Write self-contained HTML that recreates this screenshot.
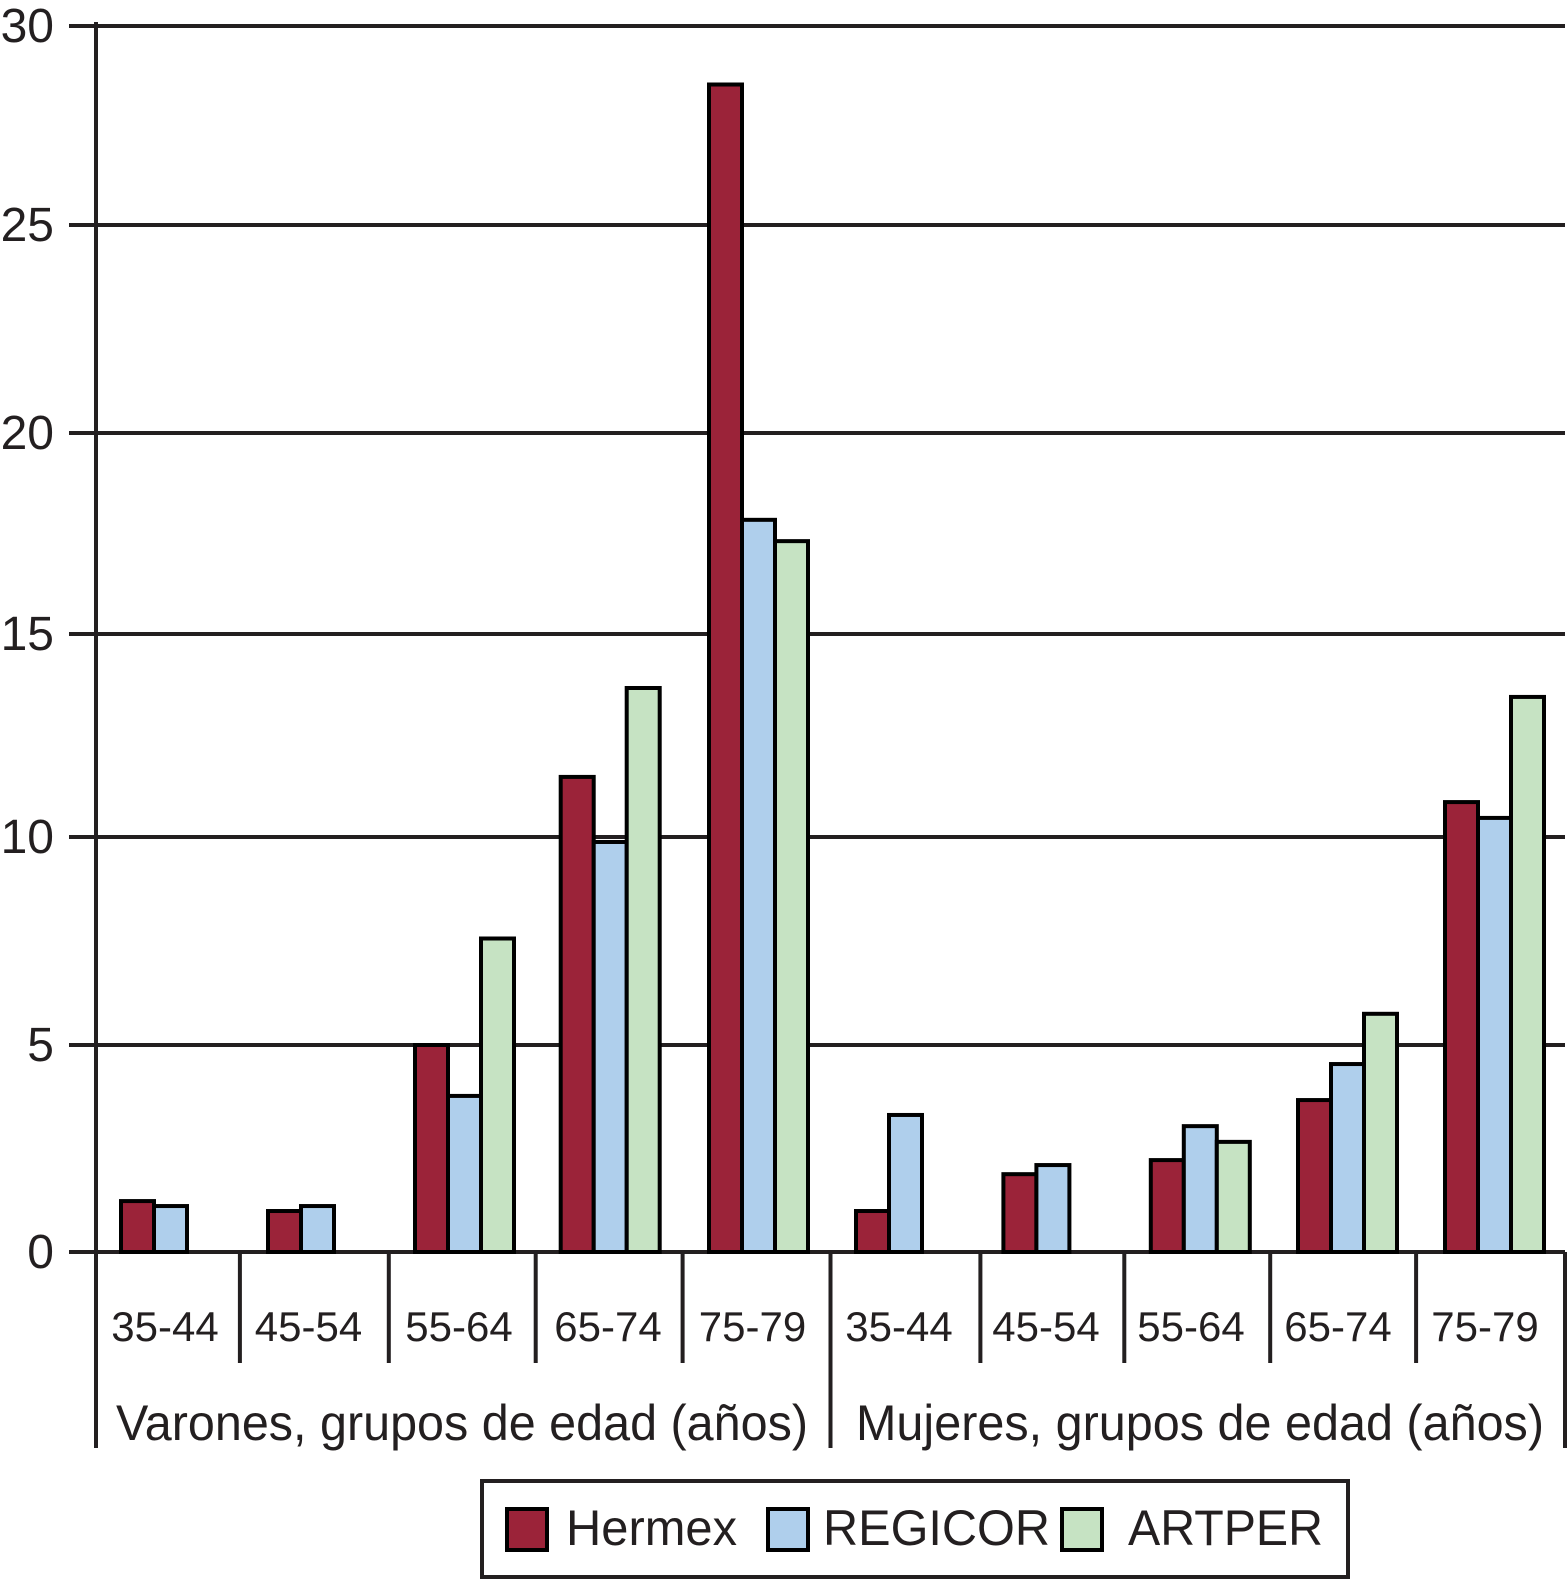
<!DOCTYPE html>
<html lang="es">
<head>
<meta charset="utf-8">
<title>Grupos de edad: Hermex, REGICOR, ARTPER</title>
<style>
html,body{margin:0;padding:0;background:#fff;width:1567px;height:1580px;overflow:hidden}
svg{display:block}
text{font-family:"Liberation Sans",Arial,sans-serif;fill:#231f20}
</style>
</head>
<body>
<svg id="chart" xmlns="http://www.w3.org/2000/svg" width="1567" height="1580" viewBox="0 0 1567 1580">
  <rect x="0" y="0" width="1567" height="1580" fill="#ffffff"/>
  <g id="grid"></g>
  <g id="bars"></g>
  <g id="axes"></g>
  <g id="labels"></g>

  <g>
    <rect x="482" y="1481" width="866" height="96" fill="#ffffff" stroke="#231f20" stroke-width="4"/>
    <g>
      <rect x="507" y="1509" width="40" height="41" fill="#9b2339" stroke="#000000" stroke-width="4"/>
      <text x="566" y="1545" font-size="50" textLength="171" lengthAdjust="spacingAndGlyphs">Hermex</text>
    </g>
    <g>
      <rect x="768" y="1509" width="40" height="41" fill="#afcfec" stroke="#000000" stroke-width="4"/>
      <text x="823" y="1545" font-size="50" textLength="227" lengthAdjust="spacingAndGlyphs">REGICOR</text>
    </g>
    <g>
      <rect x="1062" y="1509" width="40" height="41" fill="#c6e3c3" stroke="#000000" stroke-width="4"/>
      <text x="1128" y="1545" font-size="50" textLength="195" lengthAdjust="spacingAndGlyphs">ARTPER</text>
    </g>
  </g>
</svg>

<script>
// Chart data
const categories = ['35-44', '45-54', '55-64', '65-74', '75-79', '35-44', '45-54', '55-64', '65-74', '75-79'];
const hermexValues = [1.23, 0.99, 5.0, 11.48, 28.53, 0.99, 1.88, 2.22, 3.67, 10.86];
const regicorValues = [1.11, 1.11, 3.77, 9.88, 17.84, 3.31, 2.10, 3.04, 4.54, 10.47];
const artperValues = [null, null, 7.56, 13.67, 17.31, null, null, 2.66, 5.75, 13.45];
const yTickValues = [0, 5, 10, 15, 20, 25, 30];
const groupTitles = ['Varones, grupos de edad (años)', 'Mujeres, grupos de edad (años)'];

// Axis calibration (the source figure's gridlines are slightly unevenly spaced)
const Y_STOPS = [1252, 1045, 837, 634, 433, 225, 26];
const TICK_NUDGE = [0, -3, -1, -1, -1, 0, 3, 0, -1, -2, 0];
const LABEL_NUDGE = [0, -3.5, 0, 2, -0.5, -1, -1, -3, -3, -3];
const GROUP_NUDGE = [0, 0, 0, -1.3, 0, 0, 0.4, 0.8, 1, 1];

const NS = 'http://www.w3.org/2000/svg';
const COLOR_AXIS = '#231f20';
const BAR_W = 33;

function yScale(v) {
  const step = yTickValues[1] - yTickValues[0];
  let k = Math.floor(v / step);
  k = Math.max(0, Math.min(yTickValues.length - 2, k));
  const t = (v - yTickValues[k]) / step;
  return Y_STOPS[k] + t * (Y_STOPS[k + 1] - Y_STOPS[k]);
}
function barGroupX(i) { return 121 + 147 * i + GROUP_NUDGE[i]; }
function tickX(i) { return 96 + 146.9 * i + TICK_NUDGE[i]; }
function labelX(i) { return 165 + 147 * i + LABEL_NUDGE[i]; }

function make(tag, parent, attrs) {
  const el = document.createElementNS(NS, tag);
  for (const k in attrs) el.setAttribute(k, attrs[k]);
  parent.appendChild(el);
  return el;
}

const gridG = document.getElementById('grid');
const barsG = document.getElementById('bars');
const axesG = document.getElementById('axes');
const labelsG = document.getElementById('labels');

// Gridlines and y tick labels
yTickValues.forEach(function (v) {
  const line = make('line', gridG, { x1: 69, x2: 1565, y1: yScale(v), y2: yScale(v), stroke: COLOR_AXIS, 'stroke-width': 4 });
  
  
  const label = make('text', labelsG, { x: 54, y: yScale(v) + 16, 'font-size': 48, 'text-anchor': 'end' });
  label.textContent = String(v);
  
  
});

// Bars
const seriesList = [
  { key: 'hermex', values: hermexValues, fill: '#9b2339' },
  { key: 'regicor', values: regicorValues, fill: '#afcfec' },
  { key: 'artper', values: artperValues, fill: '#c6e3c3' }
];
seriesList.forEach(function (s, si) {
  s.values.forEach(function (v, i) {
    if (v === null) return;
    const top = yScale(v);
    const bar = make('rect', barsG, {
      x: barGroupX(i) + si * BAR_W, y: top, width: BAR_W, height: yScale(0) - top,
      fill: s.fill, stroke: '#000000', 'stroke-width': 4
    });
    
    
  });
});

// Axis lines and dividers
for (let i = 0; i <= categories.length; i++) {
  const major = i === 0 || i === 5 || i === 10;
  const divider = make('line', axesG, {
    x1: tickX(i), x2: tickX(i), y1: yScale(0), y2: major ? 1448 : 1363, stroke: COLOR_AXIS, 'stroke-width': 4
  });
  
  
}
const yAxis = make('line', axesG, { x1: tickX(0), x2: tickX(0), y1: 22, y2: yScale(0), stroke: COLOR_AXIS, 'stroke-width': 4 });



// Category labels
categories.forEach(function (c, i) {
  const t = make('text', labelsG, { x: labelX(i), y: 1341, 'font-size': 42, 'text-anchor': 'middle' });
  t.textContent = c;
  
  
});

// Group titles
const titleA = make('text', labelsG, { x: 116, y: 1440, 'font-size': 50, textLength: 692, lengthAdjust: 'spacingAndGlyphs' });
titleA.textContent = groupTitles[0];


const titleB = make('text', labelsG, { x: 856, y: 1440, 'font-size': 50, textLength: 688, lengthAdjust: 'spacingAndGlyphs' });
titleB.textContent = groupTitles[1];


</script>
</body>
</html>
